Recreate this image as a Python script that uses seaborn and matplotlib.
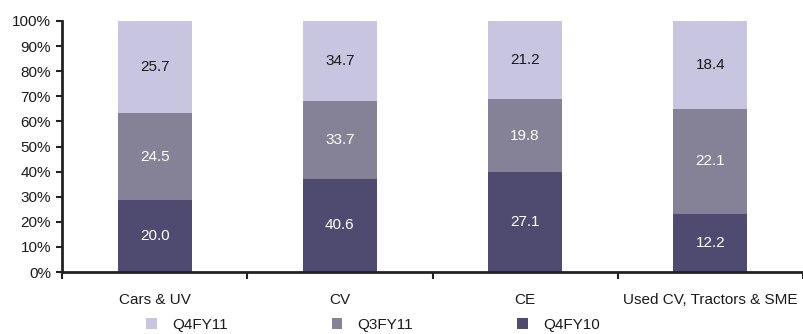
import numpy as np
import pandas as pd
import matplotlib
matplotlib.use("Agg")
import matplotlib.pyplot as plt
from matplotlib.patches import Patch
import seaborn as sns

categories = ["Cars & UV", "CV", "CE", "Used CV, Tractors & SME"]
q4fy10 = [20.0, 40.6, 27.1, 12.2]
q3fy11 = [24.5, 33.7, 19.8, 22.1]
q4fy11 = [25.7, 34.7, 21.2, 18.4]
series_names = ["Q4FY10", "Q3FY11", "Q4FY11"]
y_ticks = [0, 10, 20, 30, 40, 50, 60, 70, 80, 90, 100]

colors = {"Q4FY10": "#4f4a70", "Q3FY11": "#858298", "Q4FY11": "#c8c5e1"}
text_colors = {"Q4FY10": "white", "Q3FY11": "white", "Q4FY11": "#1a1a1a"}

sns.set_theme(style="white")
plt.rcParams["font.family"] = ["Liberation Sans", "DejaVu Sans"]

df = pd.DataFrame({"category": categories, "Q4FY10": q4fy10,
                   "Q3FY11": q3fy11, "Q4FY11": q4fy11})
total = df[series_names].sum(axis=1)
pct = df[series_names].div(total, axis=0) * 100
cum = pct.cumsum(axis=1)
bottom = cum - pct

fig = plt.figure(figsize=(8.04, 3.34), dpi=100)
ax = fig.add_axes([62 / 804, 62 / 334, 741 / 804, 251 / 334])

# draw the cumulative tops from highest to lowest so each segment shows
for name in reversed(series_names):
    sns.barplot(x=df["category"], y=cum[name], color=colors[name], width=0.4,
                saturation=1, ax=ax, edgecolor="none", order=categories)

for name in series_names:
    for i in range(len(categories)):
        mid = bottom[name][i] + pct[name][i] / 2
        ax.text(i, mid, f"{df[name][i]:.1f}", ha="center", va="center",
                fontsize=11, color=text_colors[name])

ax.set_xlim(-0.5, len(categories) - 0.5)
ax.set_ylim(0, 100)
ax.set_yticks(y_ticks)
ax.set_yticklabels([f"{v}%" for v in y_ticks])
ax.set_xlabel("")
ax.set_ylabel("")

# category labels at centers, tick marks at the category boundaries
ax.set_xticks(np.arange(len(categories)))
ax.set_xticklabels(categories)
ax.set_xticks(np.arange(len(categories) + 1) - 0.5, minor=True)
ax.tick_params(axis="x", which="major", length=0, pad=15, labelsize=11,
               colors="#1a1a1a")
ax.tick_params(axis="x", which="minor", direction="out", length=5, width=1.5,
               color="#222222", bottom=True)
ax.tick_params(axis="y", direction="out", length=4, width=1.5, color="#222222",
               left=True, labelsize=11, labelcolor="#1a1a1a", pad=4)

for side in ["top", "right"]:
    ax.spines[side].set_visible(False)
for side in ["left", "bottom"]:
    ax.spines[side].set_color("#222222")
    ax.spines[side].set_linewidth(2)

handles = [Patch(facecolor=colors[n], edgecolor="none") for n in
           ["Q4FY11", "Q3FY11", "Q4FY10"]]
fig.legend(handles, ["Q4FY11", "Q3FY11", "Q4FY10"], ncol=3,
           loc="center", bbox_to_anchor=(373 / 804, 1 - 325 / 334),
           frameon=False, fontsize=11, handlelength=0.7, handleheight=0.7,
           handletextpad=1.0, columnspacing=6.8, labelcolor="#1a1a1a")

fig.savefig("out.png", dpi=100)
